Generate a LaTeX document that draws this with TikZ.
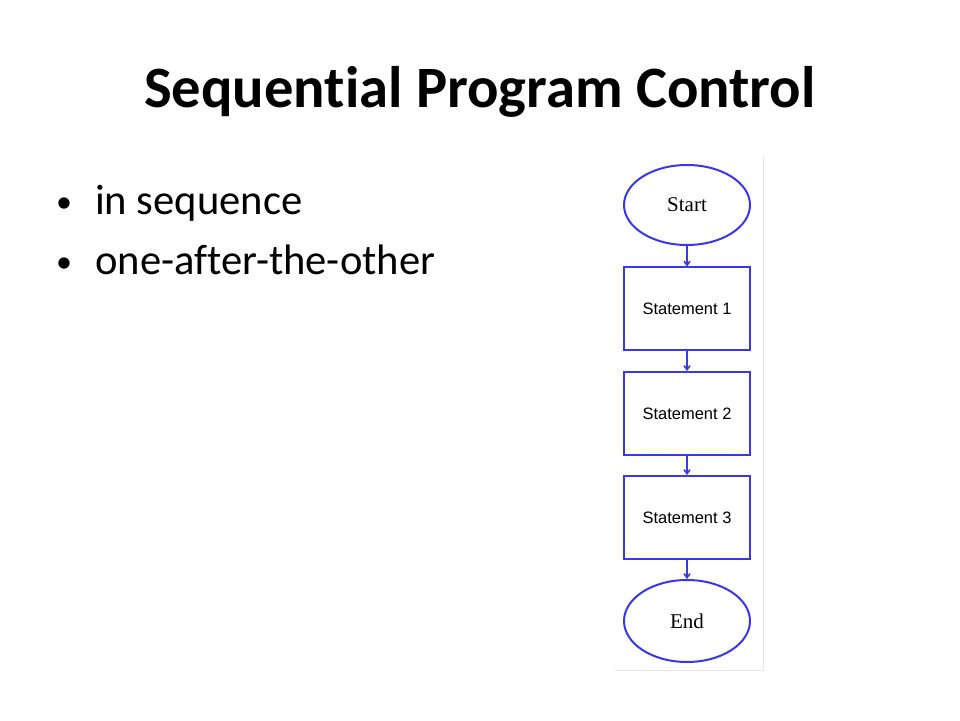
\documentclass[tikz,border=0pt]{standalone}
\usepackage{fontspec}
\setmainfont[RawFeature={-liga;-clig;-dlig}]{Carlito}
\newfontfamily\flowsans{Liberation Sans}
\newfontfamily\flowserif{Liberation Serif}
\usetikzlibrary{shapes.geometric,arrows.meta}
\definecolor{flowblue}{RGB}{55,55,235}
\definecolor{framegray}{RGB}{232,232,232}
\tikzset{
  x=1pt,y=1pt,
  term/.style={ellipse,draw=flowblue,line width=2pt,minimum width=126pt,minimum height=80pt,inner sep=0pt,font=\flowserif\fontsize{21}{24}\selectfont},
  stmt/.style={rectangle,draw=flowblue,line width=2pt,minimum width=126pt,minimum height=83pt,inner sep=0pt,font=\flowsans\fontsize{16.5}{19}\selectfont},
  flow/.style={draw=flowblue,line width=1.6pt,-{Straight Barb[length=4pt,width=6pt]}},
  bullettext/.style={anchor=base west,inner sep=0pt,font=\fontsize{42.6}{50}\selectfont},
  dot/.style={anchor=base,inner sep=0pt,font=\fontsize{32}{40}\selectfont}
}
\begin{document}
\begin{tikzpicture}
\useasboundingbox[fill=white] (0,0) rectangle (960,720);
% frame of flowchart image
\draw[framegray,line width=1pt] (763,565) -- (763,50) -- (615,50);
% title
\node[anchor=base,inner sep=0pt,font=\bfseries\fontsize{58.6}{66}\selectfont] (title) at (480,612) {Sequential Program Control};
% bullets
\node[bullettext] (b1) at (95,505) {in sequence};
\node[bullettext] (b2) at (95,445) {one-after-the-other};
\node[dot] (d1) at (64,507) {•};
\node[dot] (d2) at (64,447) {•};
% flowchart
\node[term] (start) at (687,515) {Start};
\node[stmt] (s1) at (687,411) {Statement 1};
\node[stmt] (s2) at (687,306.5) {Statement 2};
\node[stmt] (s3) at (687,202.5) {Statement 3};
\node[term,minimum height=82pt] (end) at (687,99) {End};
\draw[flow] (start) -- (s1);
\draw[flow] (s1) -- (s2);
\draw[flow] (s2) -- (s3);
\draw[flow] (s3) -- (end);
\end{tikzpicture}
\end{document}
